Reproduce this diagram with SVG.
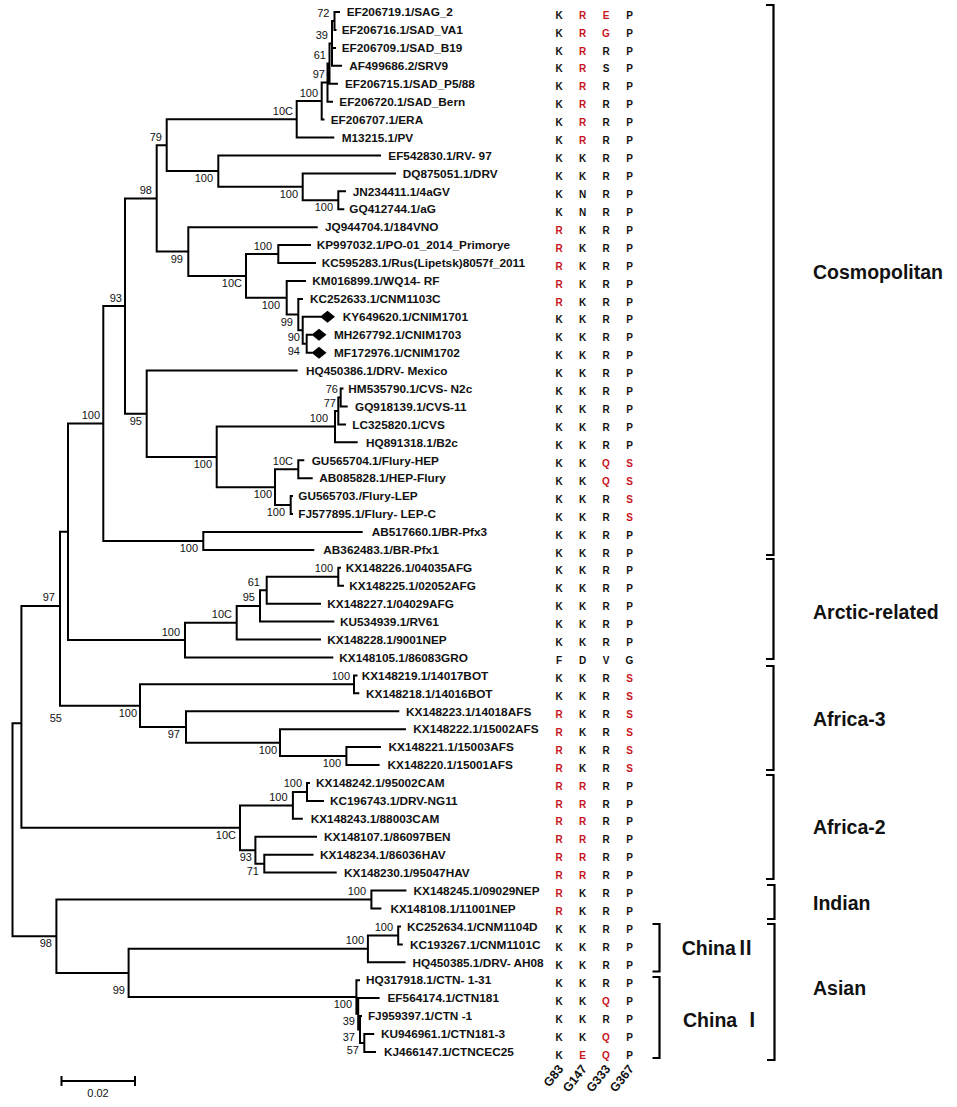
<svg xmlns="http://www.w3.org/2000/svg" width="957" height="1107" viewBox="0 0 957 1107">
<style>
.br{fill:none;stroke:#000;stroke-width:2;stroke-linecap:square}
.bk{fill:none;stroke:#000;stroke-width:2.2}
.lf{font-family:"Liberation Sans",Arial,sans-serif;font-weight:bold;font-size:11.8px;fill:#111}
.bs{font-family:"Liberation Sans",Arial,sans-serif;font-size:11px;text-anchor:end;fill:#111}
.aa{font-family:"Liberation Sans",Arial,sans-serif;font-weight:bold;font-size:10px;text-anchor:middle;fill:#111}
.r{fill:#c8141e}
.cl{font-family:"Liberation Sans","Noto Sans CJK SC",sans-serif;font-weight:bold;font-size:19.5px;fill:#111}
.hd{font-family:"Liberation Sans",Arial,sans-serif;font-weight:bold;font-size:12.5px;text-anchor:end;fill:#111}
.dm{fill:#000}
</style>
<rect width="957" height="1107" fill="#fff"/>
<g id="connectors">
<path class="br" d="M334.5 12V29.9M334.5 12H339M334.5 29.9H335.5
M332 21V65.8M332 21H334.5M332 47.9H335M332 65.8H341
M329.5 43.4V83.7M329.5 43.4H332M329.5 83.7H337
M327.5 63.55V101.7M327.5 63.55H329.5M327.5 101.7H332
M321.7 82.6V119.6M321.7 82.6H327.5M321.7 119.6H323.5
M296.7 101.1V137.5M296.7 101.1H321.7M296.7 137.5H333.3
M166.7 119.3V171.1M166.7 119.3H296.7M166.7 171.1H218.3
M218.3 155.4V186.8M218.3 155.4H380M218.3 186.8H302.7
M302.7 173.4V200.25M302.7 173.4H395M302.7 200.25H338.3
M338.3 191.3V209.2M338.3 191.3H345M338.3 209.2H343.3
M156.7 145.2V251.55M156.7 145.2H166.7M156.7 251.55H188.3
M188.3 227.2V275.9M188.3 227.2H316.7M188.3 275.9H246
M246 254.05V297.75M246 254.05H278.3M246 297.75H286.7
M278.3 245.1V263M278.3 245.1H310M278.3 263H315
M286.7 280.9V314.6M286.7 280.9H305M286.7 314.6H298.3
M298.3 298.9V330.25M298.3 298.9H302M298.3 330.25H302.7
M302.7 316.8V343.7M302.7 316.8H320M302.7 343.7H306.7
M306.7 334.7V352.7M306.7 334.7H311.5M306.7 352.7H311.5
M125 198.4V413.75M125 198.4H156.7M125 413.75H146.7
M146.7 370.6V456.9M146.7 370.6H296.7M146.7 456.9H216.7
M216.7 426.6V487.15M216.7 426.6H335M216.7 487.15H275
M335 410.95V442.3M335 410.95H338.3M335 442.3H356.7
M338.3 397.5V424.4M338.3 397.5H340.7M338.3 424.4H345
M340.7 388.5V406.5M340.7 388.5H342.5M340.7 406.5H346.7
M275 469.25V505.05M275 469.25H298.3M275 505.05H290.7
M298.3 460.3V478.2M298.3 460.3H303.3M298.3 478.2H311.7
M290.7 496.1V514M290.7 496.1H292M290.7 514H292
M103.3 306.1V540.95M103.3 306.1H125M103.3 540.95H203.3
M203.3 532V549.9M203.3 532H361.7M203.3 549.9H313.3
M68 423.5V640.1M68 423.5H103.3M68 640.1H185
M185 622.75V657.5M185 622.75H236.7M185 657.5H332.3
M236.7 605.9V639.6M236.7 605.9H260M236.7 639.6H320
M260 590.25V621.6M260 590.25H266.7M260 621.6H333.3
M266.7 576.8V603.7M266.7 576.8H338.3M266.7 603.7H320
M338.3 567.8V585.8M338.3 567.8H340M338.3 585.8H343
M60 531.8V705.65M60 531.8H68M60 705.65H140
M140 684.35V726.95M140 684.35H354M140 726.95H186
M354 675.4V693.3M354 675.4H356.5M354 693.3H358.3
M186 711.3V742.65M186 711.3H398.3M186 742.65H280
M280 729.2V756.1M280 729.2H405M280 756.1H346.4
M346.4 747.1V765.1M346.4 747.1H380M346.4 765.1H378.6
M21.4 606V827.8M21.4 606H60M21.4 827.8H240
M240 805.4V850.2M240 805.4H292.9M240 850.2H255.4
M292.9 791.95V818.8M292.9 791.95H307M292.9 818.8H301.8
M307 783V800.9M307 783H309M307 800.9H323
M255.4 836.8V863.65M255.4 836.8H316M255.4 863.65H264.3
M264.3 854.7V872.6M264.3 854.7H312.5M264.3 872.6H335.7
M12.5 723.25V936.2M12.5 723.25H21.4M12.5 936.2H56.4
M56.4 899.55V972.9M56.4 899.55H371.4M56.4 972.9H128.6
M371.4 890.6V908.5M371.4 890.6H405.4M371.4 908.5H380.4
M128.6 948.85V997M128.6 948.85H367.9M128.6 997H356.4
M367.9 935.4V962.3M367.9 935.4H398.2M367.9 962.3H404.6
M398.2 926.4V944.4M398.2 926.4H400M398.2 944.4H401.8
M356.4 980.2V1013.8M356.4 980.2H359M356.4 1013.8H358.2
M358.2 998.1V1029.5M358.2 998.1H378.6M358.2 1029.5H360
M360 1016.1V1042.95M360 1016.1H361M360 1042.95H364.3
M364.3 1034V1051.9M364.3 1034H373.2M364.3 1051.9H375"/>
</g>
<g id="bootstrap">
<g id="n72"><text class="bs" x="329.5" y="16.5">72</text></g>
<g id="n39"><text class="bs" x="328" y="38.9">39</text></g>
<g id="n61"><text class="bs" x="326" y="59">61</text></g>
<g id="n97a"><text class="bs" x="325" y="78.1">97</text></g>
<g id="n100a"><text class="bs" x="318" y="96.6">100</text></g>
<g id="n100c1"><text class="bs" x="293" y="114.8">10C</text></g>
<g id="n79"><text class="bs" x="162" y="140.7">79</text></g>
<g id="n100b"><text class="bs" x="213" y="182.1">100</text></g>
<g id="n100d"><text class="bs" x="298" y="197.8">100</text></g>
<g id="n100e"><text class="bs" x="333" y="211.3">100</text></g>
<g id="n98"><text class="bs" x="152" y="193.9">98</text></g>
<g id="n99"><text class="bs" x="183" y="262.5">99</text></g>
<g id="n10c2"><text class="bs" x="242" y="286.9">10C</text></g>
<g id="n100f"><text class="bs" x="272" y="249.5">100</text></g>
<g id="n100g"><text class="bs" x="280" y="308.7">100</text></g>
<g id="n99b"><text class="bs" x="293" y="325.6">99</text></g>
<g id="n90"><text class="bs" x="300" y="341.2">90</text></g>
<g id="n94"><text class="bs" x="300" y="354.7">94</text></g>
<g id="n93"><text class="bs" x="122" y="301.6">93</text></g>
<g id="n95"><text class="bs" x="142" y="424.75">95</text></g>
<g id="ncosmo"><text class="bs" x="100" y="419">100</text></g>
<g id="n100h"><text class="bs" x="212" y="467.9">100</text></g>
<g id="ncvs"><text class="bs" x="328" y="422.1">100</text></g>
<g id="n77"><text class="bs" x="336" y="406.5">77</text></g>
<g id="n76"><text class="bs" x="338" y="393">76</text></g>
<g id="nflury"><text class="bs" x="272" y="498.2">100</text></g>
<g id="n10c3"><text class="bs" x="293" y="464.75">10C</text></g>
<g id="n100i"><text class="bs" x="285" y="516">100</text></g>
<g id="nbr"><text class="bs" x="198" y="552">100</text></g>
<g id="n100k"><text class="bs" x="333" y="572.3">100</text></g>
<g id="n61b"><text class="bs" x="260" y="585.75">61</text></g>
<g id="n95b"><text class="bs" x="255" y="601.4">95</text></g>
<g id="n10c4"><text class="bs" x="232" y="618.25">10C</text></g>
<g id="narctic"><text class="bs" x="180" y="635.6">100</text></g>
<g id="n100m"><text class="bs" x="350" y="679.85">100</text></g>
<g id="nafr3"><text class="bs" x="137" y="716.65">100</text></g>
<g id="n97b"><text class="bs" x="180" y="737.95">97</text></g>
<g id="n100o"><text class="bs" x="277" y="753.65">100</text></g>
<g id="n100n"><text class="bs" x="341" y="767.1">100</text></g>
<g id="n100p"><text class="bs" x="302" y="787.45">100</text></g>
<g id="n100q"><text class="bs" x="287.5" y="800.9">100</text></g>
<g id="nafr2"><text class="bs" x="236" y="838.8">10C</text></g>
<g id="n93b"><text class="bs" x="252" y="861.2">93</text></g>
<g id="n71"><text class="bs" x="259" y="874.65">71</text></g>
<g id="nind"><text class="bs" x="366" y="895">100</text></g>
<g id="n100j"><text class="bs" x="393" y="930.9">100</text></g>
<g id="nch2"><text class="bs" x="364" y="944.35">100</text></g>
<g id="nch1"><text class="bs" x="352" y="1008">100</text></g>
<g id="n39c"><text class="bs" x="355" y="1024.8">39</text></g>
<g id="n37"><text class="bs" x="355" y="1040.5">37</text></g>
<g id="n57"><text class="bs" x="359" y="1054">57</text></g>
<g id="nasian"><text class="bs" x="125" y="994">99</text></g>
<g id="nia"><text class="bs" x="52" y="947.2">98</text></g>
<g id="n97l"><text class="bs" x="55" y="601">97</text></g>
<g id="n55"><text class="bs" x="62" y="722">55</text></g>
</g>
<g id="leaves">
<g id="l1"><text class="lf" x="346.7" y="16.2">EF206719.1/SAG_2</text></g>
<g id="l2"><text class="lf" x="341.7" y="34.1">EF206716.1/SAD_VA1</text></g>
<g id="l3"><text class="lf" x="341.7" y="52.1">EF206709.1/SAD_B19</text></g>
<g id="l4"><text class="lf" x="349.3" y="70">AF499686.2/SRV9</text></g>
<g id="l5"><text class="lf" x="345" y="87.9">EF206715.1/SAD_P5/88</text></g>
<g id="l6"><text class="lf" x="339.3" y="105.9">EF206720.1/SAD_Bern</text></g>
<g id="l7"><text class="lf" x="330.7" y="123.8">EF206707.1/ERA</text></g>
<g id="l8"><text class="lf" x="341.7" y="141.7">M13215.1/PV</text></g>
<g id="l9"><text class="lf" x="388.3" y="159.6">EF542830.1/RV- 97</text></g>
<g id="l10"><text class="lf" x="402.7" y="177.6">DQ875051.1/DRV</text></g>
<g id="l11"><text class="lf" x="352.7" y="195.5">JN234411.1/4aGV</text></g>
<g id="l12"><text class="lf" x="349.3" y="213.4">GQ412744.1/aG</text></g>
<g id="l13"><text class="lf" x="325" y="231.4">JQ944704.1/184VNO</text></g>
<g id="l14"><text class="lf" x="316.7" y="249.3">KP997032.1/PO-01_2014_Primorye</text></g>
<g id="l15"><text class="lf" x="321.7" y="267.2">KC595283.1/Rus(Lipetsk)8057f_2011</text></g>
<g id="l16"><text class="lf" x="312.3" y="285.1">KM016899.1/WQ14- RF</text></g>
<g id="l17"><text class="lf" x="310" y="303.1">KC252633.1/CNM1103C</text></g>
<g id="l18"><polygon class="dm" points="320,316.8 327.5,310.8 335,316.8 327.5,322.8"/><text class="lf" x="342.7" y="321">KY649620.1/CNIM1701</text></g>
<g id="l19"><polygon class="dm" points="311.5,334.7 319,328.7 326.5,334.7 319,340.7"/><text class="lf" x="334" y="338.9">MH267792.1/CNIM1703</text></g>
<g id="l20"><polygon class="dm" points="311.5,352.7 319,346.7 326.5,352.7 319,358.7"/><text class="lf" x="334" y="356.9">MF172976.1/CNIM1702</text></g>
<g id="l21"><text class="lf" x="306" y="374.8">HQ450386.1/DRV- Mexico</text></g>
<g id="l22"><text class="lf" x="348.3" y="392.7">HM535790.1/CVS- N2c</text></g>
<g id="l23"><text class="lf" x="355" y="410.7">GQ918139.1/CVS-11</text></g>
<g id="l24"><text class="lf" x="352.3" y="428.6">LC325820.1/CVS</text></g>
<g id="l25"><text class="lf" x="366" y="446.5">HQ891318.1/B2c</text></g>
<g id="l26"><text class="lf" x="311.7" y="464.5">GU565704.1/Flury-HEP</text></g>
<g id="l27"><text class="lf" x="319.3" y="482.4">AB085828.1/HEP-Flury</text></g>
<g id="l28"><text class="lf" x="298.3" y="500.3">GU565703./Flury-LEP</text></g>
<g id="l29"><text class="lf" x="298.3" y="518.2">FJ577895.1/Flury- LEP-C</text></g>
<g id="l30"><text class="lf" x="371.7" y="536.2">AB517660.1/BR-Pfx3</text></g>
<g id="l31"><text class="lf" x="323.3" y="554.1">AB362483.1/BR-Pfx1</text></g>
<g id="l32"><text class="lf" x="345.7" y="572">KX148226.1/04035AFG</text></g>
<g id="l33"><text class="lf" x="349.3" y="590">KX148225.1/02052AFG</text></g>
<g id="l34"><text class="lf" x="327.3" y="607.9">KX148227.1/04029AFG</text></g>
<g id="l35"><text class="lf" x="340" y="625.8">KU534939.1/RV61</text></g>
<g id="l36"><text class="lf" x="327.3" y="643.8">KX148228.1/9001NEP</text></g>
<g id="l37"><text class="lf" x="339.3" y="661.7">KX148105.1/86083GRO</text></g>
<g id="l38"><text class="lf" x="361.7" y="679.6">KX148219.1/14017BOT</text></g>
<g id="l39"><text class="lf" x="366" y="697.5">KX148218.1/14016BOT</text></g>
<g id="l40"><text class="lf" x="406" y="715.5">KX148223.1/14018AFS</text></g>
<g id="l41"><text class="lf" x="413.3" y="733.4">KX148222.1/15002AFS</text></g>
<g id="l42"><text class="lf" x="388.6" y="751.3">KX148221.1/15003AFS</text></g>
<g id="l43"><text class="lf" x="387.5" y="769.3">KX148220.1/15001AFS</text></g>
<g id="l44"><text class="lf" x="316" y="787.2">KX148242.1/95002CAM</text></g>
<g id="l45"><text class="lf" x="330" y="805.1">KC196743.1/DRV-NG11</text></g>
<g id="l46"><text class="lf" x="310.7" y="823">KX148243.1/88003CAM</text></g>
<g id="l47"><text class="lf" x="324" y="841">KX148107.1/86097BEN</text></g>
<g id="l48"><text class="lf" x="320" y="858.9">KX148234.1/86036HAV</text></g>
<g id="l49"><text class="lf" x="344" y="876.8">KX148230.1/95047HAV</text></g>
<g id="l50"><text class="lf" x="413.6" y="894.8">KX148245.1/09029NEP</text></g>
<g id="l51"><text class="lf" x="390.4" y="912.7">KX148108.1/11001NEP</text></g>
<g id="l52"><text class="lf" x="407" y="930.6">KC252634.1/CNM1104D</text></g>
<g id="l53"><text class="lf" x="410" y="948.6">KC193267.1/CNM1101C</text></g>
<g id="l54"><text class="lf" x="412.5" y="966.5">HQ450385.1/DRV- AH08</text></g>
<g id="l55"><text class="lf" x="366" y="984.4">HQ317918.1/CTN- 1-31</text></g>
<g id="l56"><text class="lf" x="387.5" y="1002.3">EF564174.1/CTN181</text></g>
<g id="l57"><text class="lf" x="367.9" y="1020.3">FJ959397.1/CTN -1</text></g>
<g id="l58"><text class="lf" x="381" y="1038.2">KU946961.1/CTN181-3</text></g>
<g id="l59"><text class="lf" x="384" y="1056.1">KJ466147.1/CTNCEC25</text></g>
</g>
<g id="sites">
<text class="aa" y="18.6"><tspan x="559">K</tspan><tspan x="582.5" class="r">R</tspan><tspan x="606" class="r">E</tspan><tspan x="629.5">P</tspan></text>
<text class="aa" y="36.5"><tspan x="559">K</tspan><tspan x="582.5" class="r">R</tspan><tspan x="606" class="r">G</tspan><tspan x="629.5">P</tspan></text>
<text class="aa" y="54.5"><tspan x="559">K</tspan><tspan x="582.5" class="r">R</tspan><tspan x="606">R</tspan><tspan x="629.5">P</tspan></text>
<text class="aa" y="72.4"><tspan x="559">K</tspan><tspan x="582.5" class="r">R</tspan><tspan x="606">S</tspan><tspan x="629.5">P</tspan></text>
<text class="aa" y="90.3"><tspan x="559">K</tspan><tspan x="582.5" class="r">R</tspan><tspan x="606">R</tspan><tspan x="629.5">P</tspan></text>
<text class="aa" y="108.3"><tspan x="559">K</tspan><tspan x="582.5" class="r">R</tspan><tspan x="606">R</tspan><tspan x="629.5">P</tspan></text>
<text class="aa" y="126.2"><tspan x="559">K</tspan><tspan x="582.5" class="r">R</tspan><tspan x="606">R</tspan><tspan x="629.5">P</tspan></text>
<text class="aa" y="144.1"><tspan x="559">K</tspan><tspan x="582.5" class="r">R</tspan><tspan x="606">R</tspan><tspan x="629.5">P</tspan></text>
<text class="aa" y="162"><tspan x="559">K</tspan><tspan x="582.5">K</tspan><tspan x="606">R</tspan><tspan x="629.5">P</tspan></text>
<text class="aa" y="180"><tspan x="559">K</tspan><tspan x="582.5">K</tspan><tspan x="606">R</tspan><tspan x="629.5">P</tspan></text>
<text class="aa" y="197.9"><tspan x="559">K</tspan><tspan x="582.5">N</tspan><tspan x="606">R</tspan><tspan x="629.5">P</tspan></text>
<text class="aa" y="215.8"><tspan x="559">K</tspan><tspan x="582.5">N</tspan><tspan x="606">R</tspan><tspan x="629.5">P</tspan></text>
<text class="aa" y="233.8"><tspan x="559" class="r">R</tspan><tspan x="582.5">K</tspan><tspan x="606">R</tspan><tspan x="629.5">P</tspan></text>
<text class="aa" y="251.7"><tspan x="559" class="r">R</tspan><tspan x="582.5">K</tspan><tspan x="606">R</tspan><tspan x="629.5">P</tspan></text>
<text class="aa" y="269.6"><tspan x="559" class="r">R</tspan><tspan x="582.5">K</tspan><tspan x="606">R</tspan><tspan x="629.5">P</tspan></text>
<text class="aa" y="287.5"><tspan x="559" class="r">R</tspan><tspan x="582.5">K</tspan><tspan x="606">R</tspan><tspan x="629.5">P</tspan></text>
<text class="aa" y="305.5"><tspan x="559" class="r">R</tspan><tspan x="582.5">K</tspan><tspan x="606">R</tspan><tspan x="629.5">P</tspan></text>
<text class="aa" y="323.4"><tspan x="559">K</tspan><tspan x="582.5">K</tspan><tspan x="606">R</tspan><tspan x="629.5">P</tspan></text>
<text class="aa" y="341.3"><tspan x="559">K</tspan><tspan x="582.5">K</tspan><tspan x="606">R</tspan><tspan x="629.5">P</tspan></text>
<text class="aa" y="359.3"><tspan x="559">K</tspan><tspan x="582.5">K</tspan><tspan x="606">R</tspan><tspan x="629.5">P</tspan></text>
<text class="aa" y="377.2"><tspan x="559">K</tspan><tspan x="582.5">K</tspan><tspan x="606">R</tspan><tspan x="629.5">P</tspan></text>
<text class="aa" y="395.1"><tspan x="559">K</tspan><tspan x="582.5">K</tspan><tspan x="606">R</tspan><tspan x="629.5">P</tspan></text>
<text class="aa" y="413.1"><tspan x="559">K</tspan><tspan x="582.5">K</tspan><tspan x="606">R</tspan><tspan x="629.5">P</tspan></text>
<text class="aa" y="431"><tspan x="559">K</tspan><tspan x="582.5">K</tspan><tspan x="606">R</tspan><tspan x="629.5">P</tspan></text>
<text class="aa" y="448.9"><tspan x="559">K</tspan><tspan x="582.5">K</tspan><tspan x="606">R</tspan><tspan x="629.5">P</tspan></text>
<text class="aa" y="466.9"><tspan x="559">K</tspan><tspan x="582.5">K</tspan><tspan x="606" class="r">Q</tspan><tspan x="629.5" class="r">S</tspan></text>
<text class="aa" y="484.8"><tspan x="559">K</tspan><tspan x="582.5">K</tspan><tspan x="606" class="r">Q</tspan><tspan x="629.5" class="r">S</tspan></text>
<text class="aa" y="502.7"><tspan x="559">K</tspan><tspan x="582.5">K</tspan><tspan x="606">R</tspan><tspan x="629.5" class="r">S</tspan></text>
<text class="aa" y="520.6"><tspan x="559">K</tspan><tspan x="582.5">K</tspan><tspan x="606">R</tspan><tspan x="629.5" class="r">S</tspan></text>
<text class="aa" y="538.6"><tspan x="559">K</tspan><tspan x="582.5">K</tspan><tspan x="606">R</tspan><tspan x="629.5">P</tspan></text>
<text class="aa" y="556.5"><tspan x="559">K</tspan><tspan x="582.5">K</tspan><tspan x="606">R</tspan><tspan x="629.5">P</tspan></text>
<text class="aa" y="574.4"><tspan x="559">K</tspan><tspan x="582.5">K</tspan><tspan x="606">R</tspan><tspan x="629.5">P</tspan></text>
<text class="aa" y="592.4"><tspan x="559">K</tspan><tspan x="582.5">K</tspan><tspan x="606">R</tspan><tspan x="629.5">P</tspan></text>
<text class="aa" y="610.3"><tspan x="559">K</tspan><tspan x="582.5">K</tspan><tspan x="606">R</tspan><tspan x="629.5">P</tspan></text>
<text class="aa" y="628.2"><tspan x="559">K</tspan><tspan x="582.5">K</tspan><tspan x="606">R</tspan><tspan x="629.5">P</tspan></text>
<text class="aa" y="646.2"><tspan x="559">K</tspan><tspan x="582.5">K</tspan><tspan x="606">R</tspan><tspan x="629.5">P</tspan></text>
<text class="aa" y="664.1"><tspan x="559">F</tspan><tspan x="582.5">D</tspan><tspan x="606">V</tspan><tspan x="629.5">G</tspan></text>
<text class="aa" y="682"><tspan x="559">K</tspan><tspan x="582.5">K</tspan><tspan x="606">R</tspan><tspan x="629.5" class="r">S</tspan></text>
<text class="aa" y="699.9"><tspan x="559">K</tspan><tspan x="582.5">K</tspan><tspan x="606">R</tspan><tspan x="629.5" class="r">S</tspan></text>
<text class="aa" y="717.9"><tspan x="559" class="r">R</tspan><tspan x="582.5">K</tspan><tspan x="606">R</tspan><tspan x="629.5" class="r">S</tspan></text>
<text class="aa" y="735.8"><tspan x="559" class="r">R</tspan><tspan x="582.5">K</tspan><tspan x="606">R</tspan><tspan x="629.5" class="r">S</tspan></text>
<text class="aa" y="753.7"><tspan x="559" class="r">R</tspan><tspan x="582.5">K</tspan><tspan x="606">R</tspan><tspan x="629.5" class="r">S</tspan></text>
<text class="aa" y="771.7"><tspan x="559" class="r">R</tspan><tspan x="582.5">K</tspan><tspan x="606">R</tspan><tspan x="629.5" class="r">S</tspan></text>
<text class="aa" y="789.6"><tspan x="559" class="r">R</tspan><tspan x="582.5" class="r">R</tspan><tspan x="606">R</tspan><tspan x="629.5">P</tspan></text>
<text class="aa" y="807.5"><tspan x="559" class="r">R</tspan><tspan x="582.5" class="r">R</tspan><tspan x="606">R</tspan><tspan x="629.5">P</tspan></text>
<text class="aa" y="825.4"><tspan x="559" class="r">R</tspan><tspan x="582.5" class="r">R</tspan><tspan x="606">R</tspan><tspan x="629.5">P</tspan></text>
<text class="aa" y="843.4"><tspan x="559" class="r">R</tspan><tspan x="582.5" class="r">R</tspan><tspan x="606">R</tspan><tspan x="629.5">P</tspan></text>
<text class="aa" y="861.3"><tspan x="559" class="r">R</tspan><tspan x="582.5" class="r">R</tspan><tspan x="606">R</tspan><tspan x="629.5">P</tspan></text>
<text class="aa" y="879.2"><tspan x="559" class="r">R</tspan><tspan x="582.5" class="r">R</tspan><tspan x="606">R</tspan><tspan x="629.5">P</tspan></text>
<text class="aa" y="897.2"><tspan x="559" class="r">R</tspan><tspan x="582.5">K</tspan><tspan x="606">R</tspan><tspan x="629.5">P</tspan></text>
<text class="aa" y="915.1"><tspan x="559" class="r">R</tspan><tspan x="582.5">K</tspan><tspan x="606">R</tspan><tspan x="629.5">P</tspan></text>
<text class="aa" y="933"><tspan x="559">K</tspan><tspan x="582.5">K</tspan><tspan x="606">R</tspan><tspan x="629.5">P</tspan></text>
<text class="aa" y="951"><tspan x="559">K</tspan><tspan x="582.5">K</tspan><tspan x="606">R</tspan><tspan x="629.5">P</tspan></text>
<text class="aa" y="968.9"><tspan x="559">K</tspan><tspan x="582.5">K</tspan><tspan x="606">R</tspan><tspan x="629.5">P</tspan></text>
<text class="aa" y="986.8"><tspan x="559">K</tspan><tspan x="582.5">K</tspan><tspan x="606">R</tspan><tspan x="629.5">P</tspan></text>
<text class="aa" y="1004.7"><tspan x="559">K</tspan><tspan x="582.5">K</tspan><tspan x="606" class="r">Q</tspan><tspan x="629.5">P</tspan></text>
<text class="aa" y="1022.7"><tspan x="559">K</tspan><tspan x="582.5">K</tspan><tspan x="606">R</tspan><tspan x="629.5">P</tspan></text>
<text class="aa" y="1040.6"><tspan x="559">K</tspan><tspan x="582.5">K</tspan><tspan x="606" class="r">Q</tspan><tspan x="629.5">P</tspan></text>
<text class="aa" y="1058.5"><tspan x="559">K</tspan><tspan x="582.5" class="r">E</tspan><tspan x="606" class="r">Q</tspan><tspan x="629.5">P</tspan></text>
<text class="hd" transform="translate(564 1069) rotate(-52)">G83</text>
<text class="hd" transform="translate(587.5 1069) rotate(-52)">G147</text>
<text class="hd" transform="translate(611 1069) rotate(-52)">G333</text>
<text class="hd" transform="translate(634.5 1069) rotate(-52)">G367</text>
</g>
<g id="clade-cosmopolitan"><path class="bk" d="M766 5H773.5V555H766"/><text class="cl" x="813" y="279">Cosmopolitan</text></g>
<g id="clade-arctic"><path class="bk" d="M766 559H773.5V659H766"/><text class="cl" x="813" y="618.7">Arctic-related</text></g>
<g id="clade-africa3"><path class="bk" d="M766 666H773.5V770H766"/><text class="cl" x="813" y="726.3">Africa-3</text></g>
<g id="clade-africa2"><path class="bk" d="M766 775H773.5V879H766"/><text class="cl" x="813" y="833.7">Africa-2</text></g>
<g id="clade-indian"><path class="bk" d="M767 885H774.5V919H767"/><text class="cl" x="813" y="910.3">Indian</text></g>
<g id="clade-asian"><path class="bk" d="M767 924H774.5V1060H767"/><text class="cl" x="813" y="994.7">Asian</text></g>
<g id="clade-china2"><path class="bk" d="M652.5 924H659.5V971.5H652.5"/><text class="cl" x="681.7" y="955.3">ChinaⅡ</text></g>
<g id="clade-china1"><path class="bk" d="M652.5 977H659.5V1058H652.5"/><text class="cl" x="683" y="1027">China Ⅰ</text></g>
<g id="scale"><path class="br" d="M61.5 1081H135M61.5 1077V1085M135 1077V1085"/><text x="98" y="1097" text-anchor="middle" font-family="Liberation Sans, Arial, sans-serif" font-size="11" fill="#111">0.02</text></g>
</svg>
